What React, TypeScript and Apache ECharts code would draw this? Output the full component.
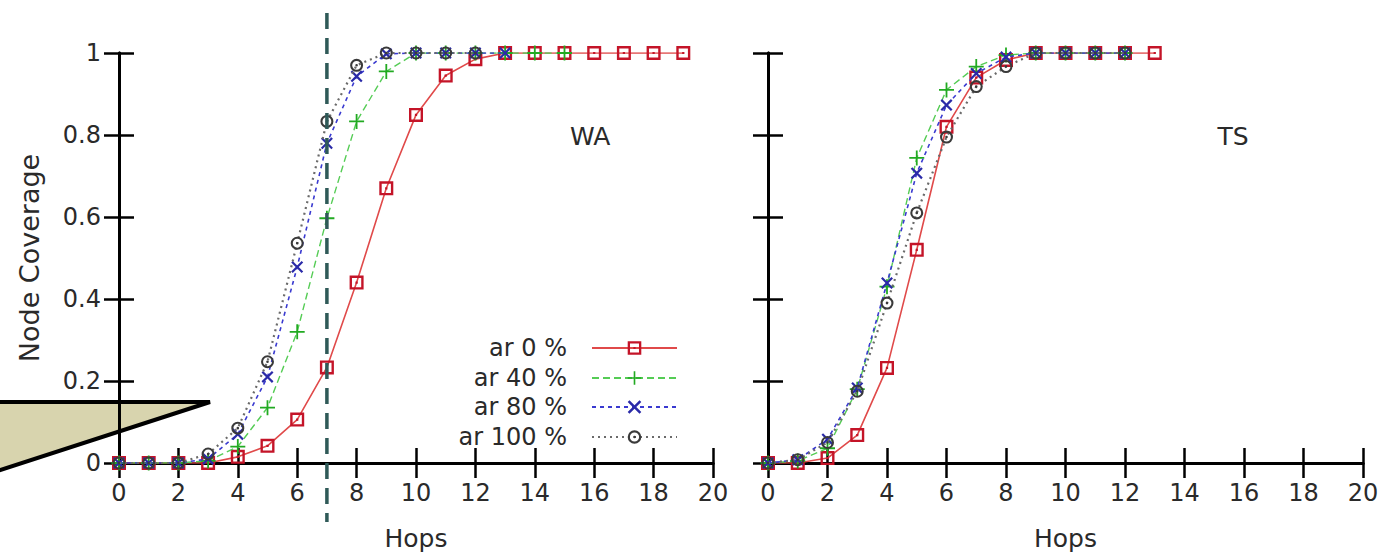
import React, { useEffect, useRef } from "react";
import * as echarts from "echarts";

// ---- data ----
const hops = [0, 1, 2, 3, 4, 5, 6, 7, 8, 9, 10, 11, 12, 13, 14, 15, 16, 17, 18, 19];
const seriesNames = ["ar 0 %", "ar 40 %", "ar 80 %", "ar 100 %"];

const waAr0 = [0, 0, 0, 0, 0.015, 0.042, 0.106, 0.233, 0.44, 0.67, 0.849, 0.945, 0.985, 1, 1, 1, 1, 1, 1, 1];
const waAr40 = [0, 0, 0, 0.005, 0.04, 0.135, 0.32, 0.597, 0.833, 0.955, 1, 1, 1, 1, 1, 1];
const waAr80 = [0, 0, 0, 0.01, 0.07, 0.21, 0.478, 0.78, 0.943, 0.998, 1, 1, 1, 1];
const waAr100 = [0, 0, 0, 0.022, 0.085, 0.247, 0.536, 0.833, 0.97, 1, 1, 1, 1];

const tsAr0 = [0, 0, 0.012, 0.068, 0.232, 0.52, 0.82, 0.94, 0.983, 1, 1, 1, 1, 1];
const tsAr40 = [0, 0.005, 0.036, 0.18, 0.43, 0.744, 0.91, 0.967, 0.995, 1, 1, 1, 1];
const tsAr80 = [0, 0.008, 0.058, 0.183, 0.439, 0.707, 0.873, 0.95, 0.99, 1, 1, 1, 1];
const tsAr100 = [0, 0.008, 0.05, 0.175, 0.39, 0.61, 0.795, 0.918, 0.967, 1, 1, 1, 1];

const panelLabels = ["WA", "TS"];
const markerHop = 7;

const FONT = "DejaVu Sans";
const TXT = "#2a2a2a";

const SQ = "path://M0,0L10,0L10,10L0,10Z M1.7,1.7L1.7,8.3L8.3,8.3L8.3,1.7Z M4.2,4.2L5.8,4.2L5.8,5.8L4.2,5.8Z";
const PLUS = "path://M4.4,0L5.6,0L5.6,4.4L10,4.4L10,5.6L5.6,5.6L5.6,10L4.4,10L4.4,5.6L0,5.6L0,4.4L4.4,4.4Z";
const CROSS = "path://M0,1.3L1.3,0L5,3.7L8.7,0L10,1.3L6.3,5L10,8.7L8.7,10L5,6.3L1.3,10L0,8.7L3.7,5Z";
const CIRC = "path://M5,0A5,5 0 1 1 5,10A5,5 0 1 1 5,0Z M5,1.6A3.4,3.4 0 1 0 5,8.4A3.4,3.4 0 1 0 5,1.6Z M5,4A1,1 0 1 1 5,6A1,1 0 1 1 5,4Z";

const styles = [
  { symbol: SQ, size: 14, mark: "#c41428", line: "#e04a4a", type: "solid" as any, width: 1.6 },
  { symbol: PLUS, size: 15, mark: "#22aa22", line: "#55cc55", type: [7, 4], width: 1.4 },
  { symbol: CROSS, size: 12, mark: "#2a2aa8", line: "#3a3ad0", type: [4, 4], width: 1.6 },
  { symbol: CIRC, size: 13, mark: "#3a3a3a", line: "#6a6a6a", type: [2, 4], width: 2.2 },
];

const toPairs = (vals: number[]) => vals.map((v, i) => [hops[i], v]);

export default function App() {
  const ref = useRef<HTMLDivElement>(null);
  useEffect(() => {
    if (!ref.current) return;
    const chart = echarts.init(ref.current, undefined, { renderer: "svg" });

    const grids = [
      { left: 119, top: 53, width: 594, height: 410, outerBoundsMode: "none", containLabel: false },
      { left: 768, top: 53, width: 595, height: 410, outerBoundsMode: "none", containLabel: false },
    ];

    const axisLine = { show: true, lineStyle: { color: "#000", width: 3 } };
    const axisTick = { show: true, inside: true, length: 15, lineStyle: { color: "#000", width: 2.5 } };
    const labelStyle = { fontFamily: FONT, fontSize: 24, color: TXT };

    const xAxes: any[] = [];
    const yAxes: any[] = [];
    [0, 1].forEach((g) => {
      xAxes.push({
        type: "value", gridIndex: g, min: 0, max: 20, interval: 2, position: "bottom",
        axisLine, axisTick, splitLine: { show: false },
        axisLabel: { ...labelStyle, margin: 18, showMinLabel: true, showMaxLabel: true },
        name: "Hops", nameLocation: "middle", nameGap: 63,
        nameTextStyle: { fontFamily: FONT, fontSize: 25, color: TXT },
      });
      xAxes.push({
        type: "value", gridIndex: g, min: 0, max: 20, interval: 2, position: "top",
        axisLine, axisTick, splitLine: { show: false }, axisLabel: { show: false },
      });
      yAxes.push({
        type: "value", gridIndex: g, min: 0, max: 1, interval: 0.2, position: "left",
        axisLine, axisTick, splitLine: { show: false },
        axisLabel: g === 0 ? { ...labelStyle, margin: 18 } : { show: false },
        name: g === 0 ? "Node Coverage" : "", nameLocation: "middle", nameGap: 76, nameRotate: 90,
        nameTextStyle: { fontFamily: FONT, fontSize: 27, color: TXT },
      });
      yAxes.push({
        type: "value", gridIndex: g, min: 0, max: 1, interval: 0.2, position: "right",
        axisLine, axisTick, splitLine: { show: false }, axisLabel: { show: false },
      });
    });

    const mk = (name: string, idx: number, vals: number[], g: number) => {
      const s = styles[idx];
      return {
        type: "line", name, data: toPairs(vals),
        xAxisIndex: g * 2, yAxisIndex: g * 2,
        symbol: s.symbol, symbolSize: s.size, showAllSymbol: true,
        itemStyle: { color: s.mark, borderWidth: 0 },
        lineStyle: { color: s.line, type: s.type, width: s.width },
        z: 2 + idx,
      };
    };

    const series = [
      mk(seriesNames[0], 0, waAr0, 0),
      mk(seriesNames[1], 1, waAr40, 0),
      mk(seriesNames[2], 2, waAr80, 0),
      mk(seriesNames[3], 3, waAr100, 0),
      mk(seriesNames[0], 0, tsAr0, 1),
      mk(seriesNames[1], 1, tsAr40, 1),
      mk(seriesNames[2], 2, tsAr80, 1),
      mk(seriesNames[3], 3, tsAr100, 1),
    ];

    const legendTops = [336, 366, 395, 425];
    const legends = seriesNames.map((n, i) => ({
      data: [n], right: 717, top: legendTops[i], orient: "vertical", align: "right",
      itemWidth: 85, itemHeight: 17, padding: 0, selectedMode: false,
      textStyle: { fontFamily: FONT, fontSize: 24, color: TXT, padding: [0, 20, 0, 0] },
    }));

    chart.setOption({
      animation: false,
      backgroundColor: "#fff",
      grid: grids,
      xAxis: xAxes,
      yAxis: yAxes,
      legend: legends,
      series,
    });

    const lineX = chart.convertToPixel({ xAxisIndex: 0 }, markerHop) as number;
    const waPos = chart.convertToPixel({ xAxisIndex: 0, yAxisIndex: 0 }, [16, 0.8]) as number[];
    const tsPos = chart.convertToPixel({ xAxisIndex: 2, yAxisIndex: 2 }, [16, 0.8]) as number[];

    chart.setOption({
      graphic: [
        {
          type: "polygon", z: -5, silent: true,
          shape: { points: [[-6, 402], [210, 402], [-6, 472]] },
          style: { fill: "#d8d4ae", stroke: "#000", lineWidth: 4 },
        },
        {
          type: "text", x: waPos[0] - 4, y: waPos[1] + 1, z: 10,
          style: { text: panelLabels[0], fontFamily: FONT, fontSize: 25, fill: TXT, align: "center", verticalAlign: "middle" },
        },
        {
          type: "text", x: tsPos[0] - 11, y: tsPos[1] + 1, z: 10,
          style: { text: panelLabels[1], fontFamily: FONT, fontSize: 25, fill: TXT, align: "center", verticalAlign: "middle" },
        },
        {
          type: "line", z: 100, silent: true,
          shape: { x1: lineX, y1: 13, x2: lineX, y2: 522 },
          style: { stroke: "#2f5a58", lineWidth: 3.5, lineDash: [16, 9] },
        },
      ],
    });

    return () => chart.dispose();
  }, []);

  return (
    <div
      ref={ref}
      style={{ position: "fixed", left: 0, top: 0, width: 1395, height: 553, background: "#fff" }}
    />
  );
}
